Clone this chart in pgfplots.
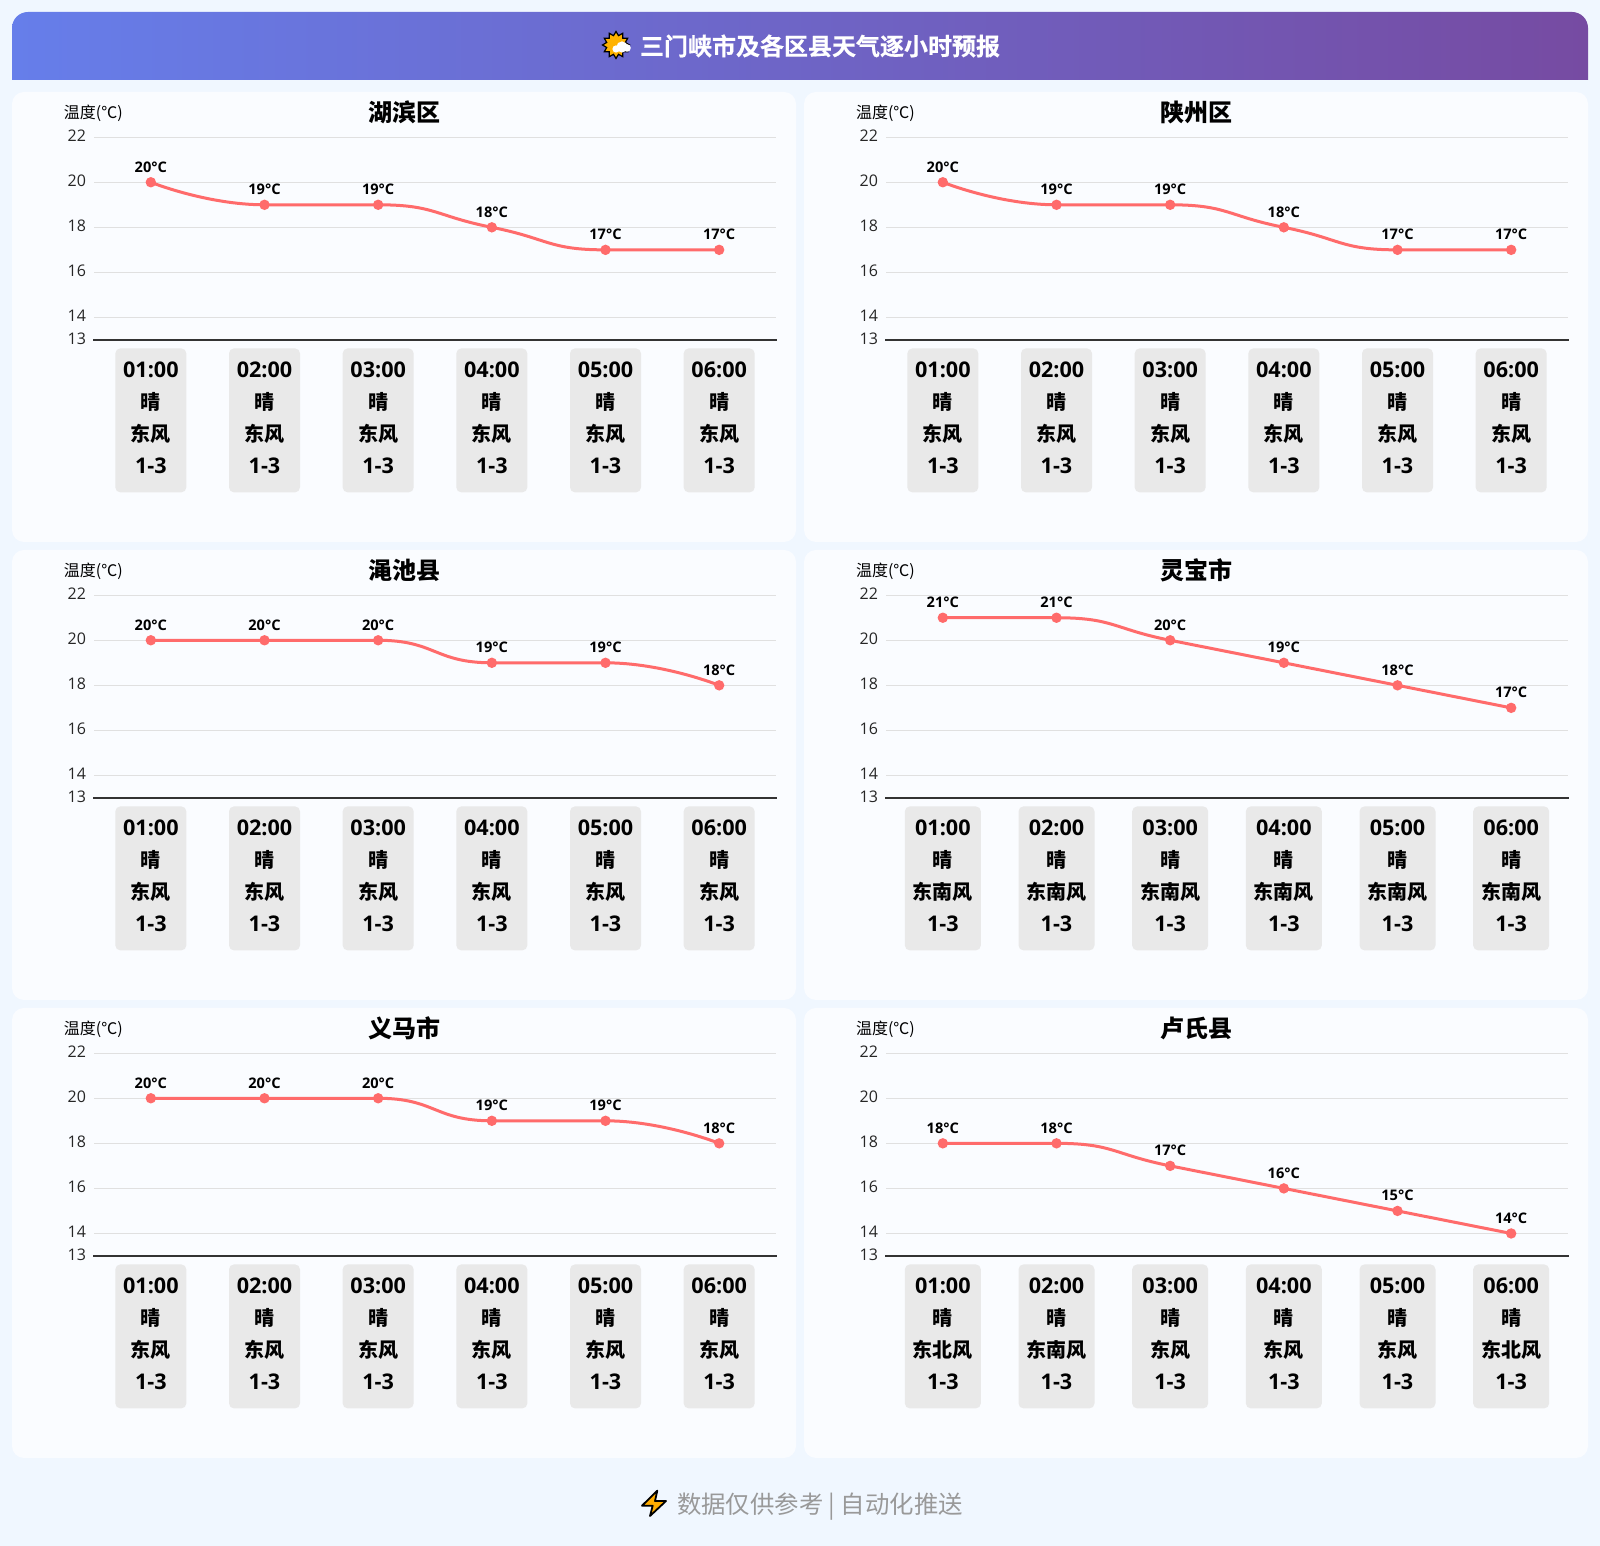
\documentclass[border=0pt]{standalone}
\usepackage{fontspec}
\usepackage{pgfplots}
\pgfplotsset{compat=1.18}
\usetikzlibrary{shapes.geometric}
\setmainfont{Open Sans}
\newfontfamily\cjk{Noto Sans CJK SC}
\newfontfamily\cjkh[FakeBold=0.5]{Noto Sans CJK SC Bold}
\newcommand\zh[1]{{\cjk\fontsize{10}{16}\selectfont #1}}
\definecolor{pagebg}{HTML}{F0F7FF}
\definecolor{panelbg}{HTML}{FAFCFF}
\definecolor{boxbg}{HTML}{E9E9E9}
\definecolor{hdrA}{HTML}{667EEA}
\definecolor{hdrB}{HTML}{764BA2}
\definecolor{linec}{HTML}{FF6B6B}
\definecolor{gridc}{HTML}{E0E0E0}
\definecolor{axisc}{HTML}{333333}
\definecolor{foot}{HTML}{999999}
\pgfplotsset{/pgf/number format/assume math mode=true}
% plot handler: a monotone smooth curve through the data points, without overshoot
\makeatletter
\newcount\mono@n
\newcount\mono@i
\def\mono@point#1{\pgf@process{#1}\global\advance\mono@n by 1
  \expandafter\xdef\csname mono@x\the\mono@n\endcsname{\pgf@sys@tonumber\pgf@x}%
  \expandafter\xdef\csname mono@y\the\mono@n\endcsname{\pgf@sys@tonumber\pgf@y}}
\def\mono@get#1#2#3{\edef#1{\csname mono@#2\number#3\endcsname}}
\def\mono@clamp#1#2#3{\pgfmathsetmacro#1{max(min(#1,max(#2,#3)),min(#2,#3))}}
\def\mono@draw{%
  \mono@i=1
  \mono@get\cax{x}\mono@i \mono@get\cay{y}\mono@i
  \pgfpathmoveto{\pgfqpoint{\cax pt}{\cay pt}}%
  \loop\ifnum\mono@i<\numexpr\mono@n-1\relax
    \mono@get\mpx{x}\mono@i \mono@get\mpy{y}\mono@i
    \advance\mono@i by 1
    \mono@get\mx{x}\mono@i \mono@get\my{y}\mono@i
    \advance\mono@i by 1
    \mono@get\mnx{x}\mono@i \mono@get\mny{y}\mono@i
    \advance\mono@i by -1
    \pgfmathsetmacro\lp{sqrt((\mx-\mpx)*(\mx-\mpx)+(\my-\mpy)*(\my-\mpy))}%
    \pgfmathsetmacro\ln{sqrt((\mnx-\mx)*(\mnx-\mx)+(\mny-\my)*(\mny-\my))}%
    \pgfmathsetmacro\rr{\ln/(\lp+\ln)}%
    \pgfmathsetmacro\cbx{\mx+(\mnx-\mpx)*0.5*\rr}%
    \pgfmathsetmacro\cby{\my+(\mny-\mpy)*0.5*\rr}%
    \mono@clamp\cbx\mx\mnx \mono@clamp\cby\my\mny
    \pgfmathsetmacro\czx{\mx-(\cbx-\mx)*\lp/\ln}%
    \pgfmathsetmacro\czy{\my-(\cby-\my)*\lp/\ln}%
    \mono@clamp\czx\mx\mpx \mono@clamp\czy\my\mpy
    \pgfmathsetmacro\cbx{\mx+(\mx-\czx)*\ln/\lp}%
    \pgfmathsetmacro\cby{\my+(\my-\czy)*\ln/\lp}%
    \pgfpathcurveto{\pgfqpoint{\cax pt}{\cay pt}}{\pgfqpoint{\czx pt}{\czy pt}}{\pgfqpoint{\mx pt}{\my pt}}%
    \let\cax\cbx \let\cay\cby
  \repeat
  \advance\mono@i by 1
  \mono@get\mx{x}\mono@i \mono@get\my{y}\mono@i
  \pgfpathcurveto{\pgfqpoint{\cax pt}{\cay pt}}{\pgfqpoint{\mx pt}{\my pt}}{\pgfqpoint{\mx pt}{\my pt}}%
}
\def\pgfplothandlermono{\def\pgf@plotstreamstart{\global\mono@n=0\relax
  \global\let\pgf@plotstreampoint=\mono@point
  \global\let\pgf@plotstreamspecial=\pgfutil@gobble
  \global\let\pgf@plotstreamjump=\relax
  \global\let\pgf@plotstreamend=\mono@draw}}
\tikzset{mono smooth/.code={\let\tikz@plot@handler=\pgfplothandlermono}}
\makeatother
\newlength\boxw
% hour box: #1 category position, #2 time, #3 wind
\newcommand\B[3]{\node[fill=boxbg,rounded corners=2.5pt,inner sep=0pt,
      minimum width=\boxw,minimum height=72pt,anchor=north,yshift=-4pt] (b) at (axis cs:#1,13) {};
   \node[font=\bfseries\fontsize{10.8}{16}\selectfont,text=black,align=center,inner sep=0pt,yshift=1.4pt] at (b) {#2\\\zh{晴}\\\zh{#3}\\1-3};}
\newcommand\allB[1]{\B{0}{01:00}{#1}\B{1}{02:00}{#1}\B{2}{03:00}{#1}\B{3}{04:00}{#1}\B{4}{05:00}{#1}\B{5}{06:00}{#1}}
% #1 panel left px, #2 panel top px, #3 title, #4 temps, #5 boxes, #6 box width
\newcommand\panel[6]{%
  \fill[panelbg,rounded corners=6pt] ({#1*0.5pt},{773pt-#2*0.5pt}) rectangle ({(#1+784)*0.5pt},{773pt-(#2+450)*0.5pt});
  \node[font=\cjk\bfseries\fontsize{12}{14}\selectfont,black,inner sep=0pt] at ({(#1+392)*0.5pt},{773pt-(#2+20)*0.5pt}) {#3};
  \node[font=\cjk\fontsize{8}{10}\selectfont,black,inner sep=0pt] at ({(#1+81.4)*0.5pt},{773pt-(#2+21.3)*0.5pt}) {温度(℃)};
  \setlength\boxw{#6}%
  \begin{axis}[
    at={({(#1+82)*0.5pt},{773pt-(#2+248)*0.5pt})},anchor=south west,
    scale only axis,width=341pt,height=101.4pt,
    xmin=-0.5,xmax=5.5,ymin=13,ymax=22,
    axis x line=bottom,axis y line=left,
    axis line style={-,shorten <=-0.5pt,shorten >=-0.5pt},
    x axis line style={axisc,line width=1pt},
    y axis line style={draw=none},
    major tick length=0pt,
    ymajorgrids,grid style={gridc,line width=0.5pt},
    ytick={13,14,16,18,20,22},
    xtick={0,1,2,3,4,5},
    xticklabels={},
    yticklabel style={font=\fontsize{8}{10}\selectfont,text=black!85,inner sep=0pt,xshift=-3.8pt,yshift=0.8pt},
    clip=false,
  ]
  \addplot[linec,line width=1.5pt,mono smooth,mark=*,mark size=1.8pt,mark options={fill=linec,draw=none},
    nodes near coords={\pgfmathprintnumber{\pgfplotspointmeta}°C},
    nodes near coords style={font=\bfseries\fontsize{7.3}{9}\selectfont,text=black,anchor=center,yshift=7.7pt,inner sep=0pt},
  ] coordinates {#4};
  #5
  \end{axis}%
}
\begin{document}
\begin{tikzpicture}
\fill[pagebg] (0pt,0pt) rectangle (800pt,773pt);
\path[left color=hdrA,right color=hdrB]
  (6pt,733pt) -- (6pt,759pt) arc (180:90:8pt) -- (786pt,767pt) arc (90:0:8pt) -- (794pt,733pt) -- cycle;
\node[font=\cjkh\fontsize{12}{14}\selectfont,text=white,inner sep=0pt] at (410pt,750pt) {三门峡市及各区县天气逐小时预报};
% sun-behind-cloud icon
\node[star,star points=12,star point ratio=1.4,minimum size=13.5pt,inner sep=0pt,fill=orange!60!yellow,draw=black,line width=0.6pt] at (308pt,750.5pt) {};
\fill[white] (311pt,749.5pt) circle (2.8pt) (308pt,748.5pt) circle (1.8pt) (313.5pt,749pt) circle (1.9pt);
% footer
\node[font=\cjk\fontsize{12.2}{14}\selectfont,text=foot,inner sep=0pt] at (410pt,19.5pt) {数据仅供参考 | 自动化推送};
\begin{scope}[x=0.5pt,y=-0.5pt,yshift=773pt]
\filldraw[fill=orange!65!yellow,draw=black,line width=0.9pt,line join=round]
 (657.3,1490.7) -- (642,1505.7) -- (652.7,1505.7) -- (650,1516) -- (666,1501) -- (655,1501) -- cycle;
\end{scope}
\panel{12}{92}{湖滨区}{(0,20)(1,19)(2,19)(3,18)(4,17)(5,17)}{\allB{东风}}{35.5pt}
\panel{804}{92}{陕州区}{(0,20)(1,19)(2,19)(3,18)(4,17)(5,17)}{\allB{东风}}{35.5pt}
\panel{12}{550}{渑池县}{(0,20)(1,20)(2,20)(3,19)(4,19)(5,18)}{\allB{东风}}{35.5pt}
\panel{804}{550}{灵宝市}{(0,21)(1,21)(2,20)(3,19)(4,18)(5,17)}{\allB{东南风}}{38pt}
\panel{12}{1008}{义马市}{(0,20)(1,20)(2,20)(3,19)(4,19)(5,18)}{\allB{东风}}{35.5pt}
\panel{804}{1008}{卢氏县}{(0,18)(1,18)(2,17)(3,16)(4,15)(5,14)}{\B{0}{01:00}{东北风}\B{1}{02:00}{东南风}\B{2}{03:00}{东风}\B{3}{04:00}{东风}\B{4}{05:00}{东风}\B{5}{06:00}{东北风}}{38pt}
\end{tikzpicture}
\end{document}
